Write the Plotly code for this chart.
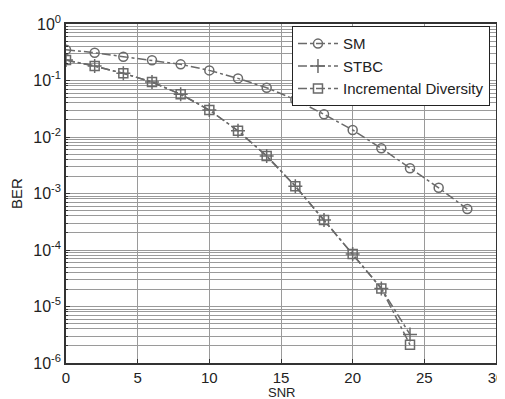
import plotly.graph_objects as go

snr = [0, 2, 4, 6, 8, 10, 12, 14, 16, 18, 20, 22, 24, 26, 28]
ber_sm = [0.35, 0.31, 0.264, 0.228, 0.193, 0.151, 0.109, 0.0746, 0.0457, 0.0252,
          0.0133, 0.0063, 0.0028, 0.00126, 0.00053]
snr_div = [0, 2, 4, 6, 8, 10, 12, 14, 16, 18, 20, 22, 24]
ber_stbc = [0.23, 0.18, 0.134, 0.094, 0.057, 0.030, 0.0129, 0.0046, 0.00135,
            0.00034, 0.000085, 0.0000209, 0.0000032]
ber_id = [0.23, 0.18, 0.134, 0.094, 0.057, 0.030, 0.0129, 0.0046, 0.00135,
          0.00034, 0.000085, 0.0000209, 0.0000021]

ytick_vals = [1e0, 1e-1, 1e-2, 1e-3, 1e-4, 1e-5, 1e-6]
ytick_text = ["10<sup>0</sup>", "10<sup>-1</sup>", "10<sup>-2</sup>", "10<sup>-3</sup>",
              "10<sup>-4</sup>", "10<sup>-5</sup>", "10<sup>-6</sup>"]
xtick_vals = [0, 5, 10, 15, 20, 25, 30]

line_col = "#6a6a6a"
grid_col = "#9a9a9a"
axis_col = "#333333"

fig = go.Figure()
fig.add_trace(go.Scatter(
    x=snr, y=ber_sm, name="SM", mode="lines+markers",
    line=dict(color=line_col, width=1.5, dash="dashdot"),
    marker=dict(symbol="circle-open", size=9, color=line_col, line=dict(width=1.5)),
))
fig.add_trace(go.Scatter(
    x=snr_div, y=ber_stbc, name="STBC", mode="lines+markers",
    line=dict(color=line_col, width=1.5, dash="dashdot"),
    marker=dict(symbol="cross-thin-open", size=10, color=line_col, line=dict(width=1.5, color=line_col)),
))
fig.add_trace(go.Scatter(
    x=snr_div, y=ber_id, name="Incremental Diversity", mode="lines+markers",
    line=dict(color=line_col, width=1.5, dash="dashdot"),
    marker=dict(symbol="square-open", size=9, color=line_col, line=dict(width=1.5)),
))

# page body has an 8px default margin, so the figure is sized to fit inside it
fig.update_layout(
    width=497, height=391,
    margin=dict(l=58, r=9, t=16, b=36, autoexpand=False),
    paper_bgcolor="white", plot_bgcolor="white",
    font=dict(family="Liberation Sans, Arial, sans-serif", size=15, color="#222"),
    showlegend=True,
    legend=dict(
        x=0.986, y=0.993, xanchor="right", yanchor="top",
        bgcolor="white", bordercolor="#222", borderwidth=1,
        font=dict(size=15), tracegroupgap=0, itemwidth=40,
    ),
    xaxis=dict(
        range=[0, 30], tickvals=xtick_vals, showgrid=True, gridcolor=grid_col, gridwidth=1,
        zeroline=False, showline=True, linecolor=axis_col, linewidth=1.5, mirror=True,
        ticks="inside", ticklen=4, tickcolor=axis_col, automargin=False,
        tickfont=dict(size=15),
    ),
    yaxis=dict(
        type="log", range=[-6, 0], tickvals=ytick_vals, ticktext=ytick_text,
        showgrid=True, gridcolor=grid_col, gridwidth=1,
        minor=dict(dtick="D1", showgrid=True, gridcolor=grid_col, gridwidth=1,
                   ticks="inside", ticklen=2, tickcolor=axis_col),
        zeroline=False, showline=True, linecolor=axis_col, linewidth=1.5, mirror=True,
        ticks="inside", ticklen=4, tickcolor=axis_col, automargin=False,
        title=dict(text="BER", font=dict(size=15)),
        tickfont=dict(size=16),
    ),
    annotations=[dict(
        text="SNR", xref="paper", yref="paper", x=0.5, y=-0.087,
        xanchor="center", yanchor="middle", showarrow=False, borderpad=0,
        font=dict(size=13),
    )],
)

fig.write_html("out.html")
